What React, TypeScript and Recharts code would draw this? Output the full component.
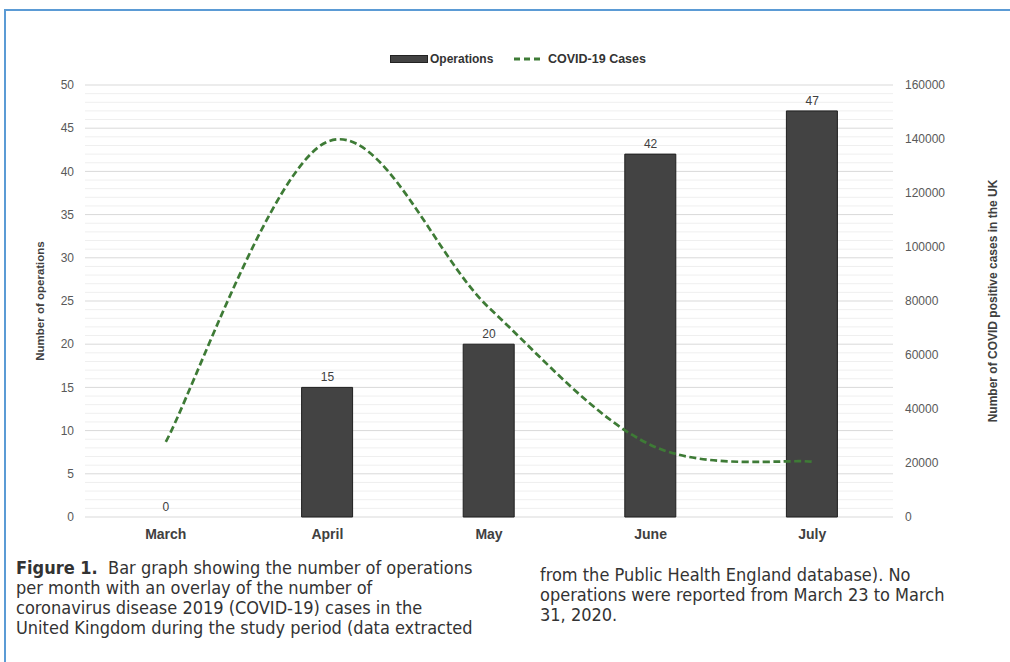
import React from "react";
import { ComposedChart, Bar, Line, XAxis, YAxis, ReferenceLine, LabelList } from "recharts";

const months = ["March", "April", "May", "June", "July"];
const operations = [0, 15, 20, 42, 47];
const covidCases = [27800, 139000, 77500, 26700, 20500];

const opsTicks = [0, 5, 10, 15, 20, 25, 30, 35, 40, 45, 50];
const casesTicks = [0, 20000, 40000, 60000, 80000, 100000, 120000, 140000, 160000];
const minorLines = [
  1, 2, 3, 4, 6, 7, 8, 9, 11, 12, 13, 14, 16, 17, 18, 19, 21, 22, 23, 24, 26, 27, 28, 29,
  31, 32, 33, 34, 36, 37, 38, 39, 41, 42, 43, 44, 46, 47, 48, 49,
];

const data = months.map((month, i) => ({ month, ops: operations[i], cases: covidCases[i] }));

// Excel-style smoothed line (Catmull-Rom through the points)
function excelCurve(context: any) {
  let pts: [number, number][] = [];
  return {
    areaStart() {},
    areaEnd() {},
    lineStart() {
      pts = [];
    },
    lineEnd() {
      if (!pts.length) return;
      context.moveTo(pts[0][0], pts[0][1]);
      for (let i = 0; i < pts.length - 1; i++) {
        const p0 = pts[Math.max(i - 1, 0)];
        const p1 = pts[i];
        const p2 = pts[i + 1];
        const p3 = pts[Math.min(i + 2, pts.length - 1)];
        context.bezierCurveTo(
          p1[0] + (p2[0] - p0[0]) / 6,
          p1[1] + (p2[1] - p0[1]) / 6,
          p2[0] - (p3[0] - p1[0]) / 6,
          p2[1] - (p3[1] - p1[1]) / 6,
          p2[0],
          p2[1]
        );
      }
    },
    point(x: number, y: number) {
      pts.push([+x, +y]);
    },
  };
}

const FONT = "'Liberation Sans', Arial, sans-serif";
const CAPTION_FONT = "'Liberation Sans Narrow', 'DejaVu Sans Condensed', 'Liberation Sans', sans-serif";
const GREEN = "#3e7b36";
const BAR = "#434343";

const W = 1010;
const H = 560;
const MARGIN = { top: 85, right: 0, left: 0, bottom: 13 };

// grid drawn in its own chart underneath so the bars sit on top of it
function GridLayer() {
  return (
    <ComposedChart width={W} height={H} data={data} margin={MARGIN}>
      <XAxis dataKey="month" height={30} tick={false} axisLine={false} tickLine={false} />
      <YAxis yAxisId="left" domain={[0, 50]} ticks={opsTicks} width={85} tick={false} axisLine={false} tickLine={false} />
      <YAxis yAxisId="right" orientation="right" domain={[0, 160000]} width={117} tick={false} axisLine={false} tickLine={false} />
      <Bar yAxisId="left" dataKey="ops" fill="none" stroke="none" isAnimationActive={false} />
      <Line yAxisId="right" dataKey="cases" stroke="none" dot={false} activeDot={false} isAnimationActive={false} />
      {minorLines.map((v) => (
        <ReferenceLine key={`m${v}`} yAxisId="left" y={v} stroke="#efefef" strokeWidth={1} />
      ))}
      {opsTicks.map((v) => (
        <ReferenceLine key={`M${v}`} yAxisId="left" y={v} stroke="#d9d9d9" strokeWidth={1} />
      ))}
    </ComposedChart>
  );
}

export default function App() {
  return (
    <div
      style={{
        position: "fixed",
        left: 0,
        top: 0,
        width: 1010,
        height: 662,
        overflow: "hidden",
        background: "#fff",
        fontFamily: FONT,
      }}
    >
      <div
        style={{
          position: "absolute",
          left: 4,
          top: 9,
          width: 1030,
          height: 700,
          border: "2px solid #5b9bd5",
        }}
      />

      {/* legend */}
      <div style={{ position: "absolute", left: 390, top: 55, width: 38, height: 8, background: BAR, border: "1px solid #222", boxSizing: "border-box" }} />
      <div style={{ position: "absolute", left: 430, top: 52, fontSize: 12, fontWeight: 700, color: "#333", whiteSpace: "nowrap" }}>
        Operations
      </div>
      <svg style={{ position: "absolute", left: 512, top: 55 }} width={30} height={8}>
        <line x1={2} y1={4} x2={29} y2={4} stroke={GREEN} strokeWidth={3} strokeDasharray="6 4" />
      </svg>
      <div style={{ position: "absolute", left: 548, top: 52, fontSize: 12.5, fontWeight: 700, color: "#333", whiteSpace: "nowrap" }}>
        COVID-19 Cases
      </div>

      <div style={{ position: "absolute", left: 0, top: 0 }}>
        <GridLayer />
      </div>

      <div style={{ position: "absolute", left: 0, top: 0 }}>
        <ComposedChart width={W} height={H} data={data} margin={MARGIN}>
          <XAxis
            dataKey="month"
            axisLine={false}
            tickLine={false}
            tickSize={0}
            tickMargin={12}
            height={30}
            tick={{ fontSize: 14, fontWeight: 700, fill: "#404040", fontFamily: FONT }}
          />
          <YAxis
            yAxisId="left"
            domain={[0, 50]}
            ticks={opsTicks}
            width={85}
            axisLine={false}
            tickLine={false}
            tickSize={0}
            tickMargin={11}
            tick={{ fontSize: 12, fill: "#595959", fontFamily: FONT }}
            label={{
              value: "Number of operations",
              angle: -90,
              position: "center",
              dx: -3,
              style: { fontSize: 11.5, fontWeight: 700, fill: "#404040", fontFamily: FONT },
            }}
          />
          <YAxis
            yAxisId="right"
            orientation="right"
            domain={[0, 160000]}
            ticks={casesTicks}
            width={117}
            axisLine={false}
            tickLine={false}
            tickSize={0}
            tickMargin={12}
            tick={{ fontSize: 12, fill: "#595959", fontFamily: FONT }}
            label={{
              value: "Number of COVID positive cases in the UK",
              angle: -90,
              position: "center",
              dx: 41,
              style: { fontSize: 12, fontWeight: 700, fill: "#404040", fontFamily: FONT },
            }}
          />
          <Bar yAxisId="left" dataKey="ops" barSize={51} fill={BAR} stroke="#1f1f1f" strokeWidth={1} isAnimationActive={false} />
          {/* invisible series carrying the value labels above the bars (also shows the 0) */}
          <Line
            yAxisId="left"
            dataKey="ops"
            stroke="none"
            dot={false}
            activeDot={false}
            isAnimationActive={false}
          >
            <LabelList dataKey="ops" position="top" offset={6} fill="#404040" fontSize={12} fontFamily={FONT} formatter={(v: any) => `${v}`} />
          </Line>
          <Line
            yAxisId="right"
            dataKey="cases"
            type={excelCurve as any}
            stroke={GREEN}
            strokeWidth={2.7}
            strokeDasharray="7 3.5"
            dot={false}
            activeDot={false}
            isAnimationActive={false}
          />
        </ComposedChart>
      </div>

      {/* caption */}
      <div
        style={{
          position: "absolute",
          left: 16,
          top: 558,
          fontFamily: CAPTION_FONT,
          fontSize: 18,
          lineHeight: "20px",
          color: "#333",
          whiteSpace: "nowrap",
        }}
      >
        <div>
          <b>Figure 1.</b>&nbsp; Bar graph showing the number of operations
        </div>
        <div>per month with an overlay of the number of</div>
        <div>coronavirus disease 2019 (COVID-19) cases in the</div>
        <div>United Kingdom during the study period (data extracted</div>
      </div>
      <div
        style={{
          position: "absolute",
          left: 540,
          top: 565,
          fontFamily: CAPTION_FONT,
          fontSize: 18,
          lineHeight: "20px",
          color: "#333",
          whiteSpace: "nowrap",
        }}
      >
        <div>from the Public Health England database). No</div>
        <div>operations were reported from March 23 to March</div>
        <div>31, 2020.</div>
      </div>
    </div>
  );
}
